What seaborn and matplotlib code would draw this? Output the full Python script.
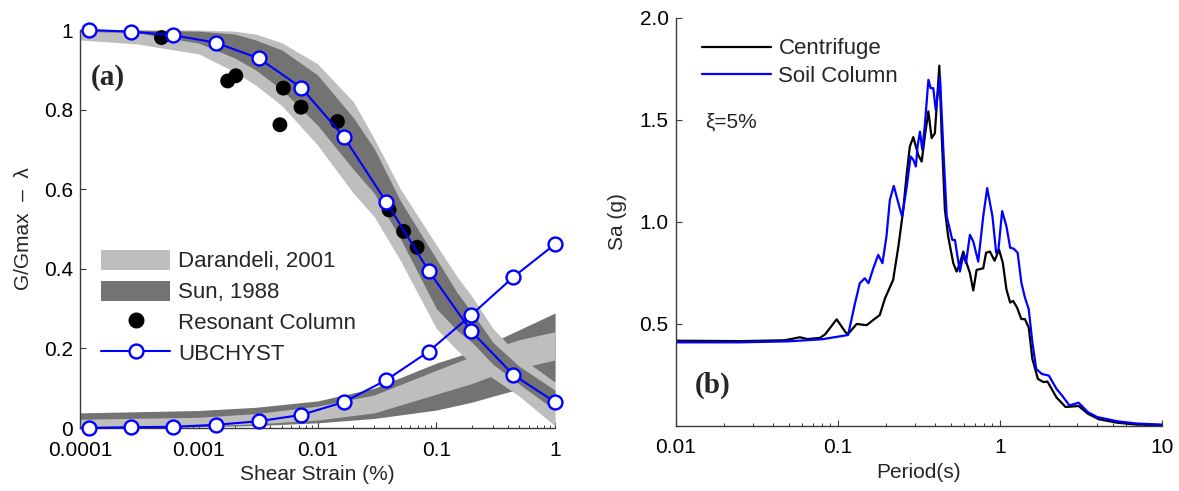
import matplotlib
matplotlib.use("Agg")
import matplotlib.pyplot as plt
from matplotlib.patches import Patch
from matplotlib.lines import Line2D
from matplotlib.ticker import FixedLocator, FuncFormatter, NullFormatter
import seaborn as sns

# -------------------------------
# Data: (a) modulus reduction / damping
# -------------------------------
gg_strain = [1e-4, 3e-4, 1e-3, 2e-3, 3e-3, 5e-3, 1e-2, 2e-2, 3e-2, 5e-2, 0.1, 0.15, 0.2, 0.3, 0.5, 1.0]
dar_gg_hi = [1.0, 1.0, 1.0, 0.997, 0.99, 0.968, 0.915, 0.82, 0.727, 0.60, 0.46, 0.38, 0.33, 0.25, 0.18, 0.115]
dar_gg_lo = [0.975, 0.965, 0.94, 0.895, 0.862, 0.81, 0.711, 0.59, 0.531, 0.42, 0.25, 0.195, 0.16, 0.125, 0.08, 0.005]
sun_gg_hi = [1.0, 1.0, 0.997, 0.99, 0.975, 0.95, 0.887, 0.78, 0.702, 0.57, 0.425, 0.34, 0.29, 0.215, 0.155, 0.095]
sun_gg_lo = [0.997, 0.993, 0.967, 0.93, 0.90, 0.85, 0.761, 0.65, 0.59, 0.475, 0.30, 0.245, 0.215, 0.16, 0.11, 0.045]

d_strain = [1e-4, 1e-3, 3e-3, 1e-2, 3e-2, 0.1, 0.2, 0.3, 0.5, 1.0]
sun_d_hi = [0.038, 0.044, 0.052, 0.068, 0.100, 0.163, 0.192, 0.216, 0.247, 0.289]
dar_d_hi = [0.022, 0.027, 0.036, 0.055, 0.083, 0.145, 0.180, 0.200, 0.222, 0.242]
dar_d_lo = [0.004, 0.006, 0.010, 0.020, 0.038, 0.085, 0.112, 0.132, 0.150, 0.171]
sun_d_lo = [0.0, 0.003, 0.006, 0.013, 0.024, 0.045, 0.065, 0.080, 0.098, 0.116]

rc_strain = [4.85e-4, 1.75e-3, 2.05e-3, 4.82e-3, 5.15e-3, 7.26e-3, 0.0147, 0.040, 0.0531, 0.0689]
rc_gg = [0.981, 0.872, 0.885, 0.762, 0.854, 0.806, 0.770, 0.548, 0.494, 0.454]

ubc_strain = [1.18e-4, 2.67e-4, 6.1e-4, 1.39e-3, 3.2e-3, 7.3e-3, 0.0166, 0.0377, 0.0861, 0.197, 0.444, 1.0]
ubc_gg = [1.0, 0.996, 0.987, 0.968, 0.929, 0.855, 0.732, 0.569, 0.395, 0.243, 0.134, 0.065]
ubc_damp = [0.0, 0.002, 0.003, 0.008, 0.017, 0.033, 0.065, 0.120, 0.192, 0.284, 0.379, 0.462]

# -------------------------------
# Data: (b) response spectra
# -------------------------------
T_centrifuge = [0.01, 0.025, 0.047, 0.0585, 0.065, 0.0778, 0.0839, 0.0986, 0.112, 0.116, 0.131,
                0.151, 0.166, 0.182, 0.196, 0.22, 0.237, 0.254, 0.267, 0.279, 0.293, 0.314, 0.33,
                0.346, 0.363, 0.38, 0.398, 0.424, 0.438, 0.459, 0.481, 0.517, 0.542, 0.568, 0.596,
                0.625, 0.655, 0.687, 0.72, 0.791, 0.824, 0.87, 0.93, 0.99, 1.045, 1.10, 1.16, 1.21,
                1.28, 1.36, 1.43, 1.51, 1.59, 1.72, 1.86, 1.97, 2.24, 2.55, 3.07, 3.5, 4.09, 5.32,
                7.0, 10.0]
Sa_centrifuge = [0.418, 0.416, 0.42, 0.435, 0.426, 0.432, 0.45, 0.523, 0.459, 0.451, 0.5,
                 0.494, 0.52, 0.544, 0.626, 0.716, 0.88, 1.06, 1.239, 1.37, 1.416, 1.329, 1.296,
                 1.427, 1.542, 1.411, 1.435, 1.766, 1.435, 1.06, 0.928, 0.798, 0.757, 0.798, 0.855,
                 0.798, 0.749, 0.664, 0.765, 0.773, 0.849, 0.855, 0.81, 0.865, 0.80, 0.67, 0.605, 0.613,
                 0.58, 0.524, 0.524, 0.483, 0.329, 0.231, 0.215, 0.218, 0.14, 0.093, 0.098, 0.06, 0.033,
                 0.016, 0.007, 0.003]

T_soil = [0.01, 0.025, 0.05, 0.08, 0.116, 0.128, 0.137, 0.147, 0.155, 0.166, 0.178, 0.189, 0.2,
          0.21, 0.222, 0.237, 0.25, 0.267, 0.282, 0.293, 0.304, 0.311, 0.322, 0.333, 0.346, 0.363,
          0.375, 0.389, 0.403, 0.428, 0.449, 0.471, 0.51, 0.529, 0.568, 0.596, 0.619, 0.655, 0.687,
          0.737, 0.791, 0.837, 0.902, 0.951, 0.982, 1.035, 1.10, 1.16, 1.22, 1.29, 1.36, 1.43, 1.51,
          1.59, 1.68, 1.82, 2.01, 2.24, 2.42, 2.69, 3.07, 3.5, 3.99, 5.32, 7.0, 10.0]
Sa_soil = [0.41, 0.41, 0.415, 0.425, 0.446, 0.602, 0.70, 0.724, 0.70, 0.773, 0.839, 0.798, 0.928,
           1.108, 1.177, 1.092, 1.027, 1.174, 1.321, 1.305, 1.272, 1.37, 1.443, 1.354, 1.485, 1.697,
           1.656, 1.656, 1.55, 1.713, 1.354, 1.027, 0.912, 0.912, 0.757, 0.839, 0.798, 0.937, 0.904,
           0.806, 1.027, 1.166, 1.028, 0.849, 0.865, 1.053, 0.979, 0.874, 0.869, 0.849, 0.703, 0.63,
           0.573, 0.41, 0.28, 0.255, 0.247, 0.182, 0.15, 0.101, 0.114, 0.068, 0.044, 0.023, 0.012, 0.007]

gg_ticks = [0, 0.2, 0.4, 0.6, 0.8, 1]
strain_ticks = [1e-4, 1e-3, 1e-2, 0.1, 1]
sa_ticks = [0.5, 1.0, 1.5, 2.0]
period_ticks = [0.01, 0.1, 1, 10]

LIGHT = "#bebebe"
DARK = "#737373"
AXCOL = "#3a3a3a"

# -------------------------------
# Style
# -------------------------------
sns.set_style("ticks")
plt.rcParams["font.family"] = ["Liberation Sans", "DejaVu Sans"]
plt.rcParams["axes.edgecolor"] = AXCOL
plt.rcParams["xtick.color"] = AXCOL
plt.rcParams["ytick.color"] = AXCOL
plt.rcParams["xtick.labelcolor"] = "black"
plt.rcParams["ytick.labelcolor"] = "black"

fig = plt.figure(figsize=(11.79, 4.91), dpi=100)
ax1 = fig.add_axes([0.0679, 0.1283, 0.4029, 0.8106])
ax2 = fig.add_axes([0.5730, 0.1324, 0.4124, 0.8310])

# -------------------------------
# (a) G/Gmax and damping
# -------------------------------
ax1.fill_between(d_strain, sun_d_lo, sun_d_hi, color=DARK, lw=0, zorder=1)
ax1.fill_between(d_strain, dar_d_lo, dar_d_hi, color=LIGHT, lw=0, zorder=1.1)
ax1.fill_between(gg_strain, dar_gg_lo, dar_gg_hi, color=LIGHT, lw=0, zorder=1.2)
ax1.fill_between(gg_strain, sun_gg_lo, sun_gg_hi, color=DARK, lw=0, zorder=1.3)

sns.scatterplot(x=rc_strain, y=rc_gg, ax=ax1, color="black", s=115, edgecolor="none",
                zorder=4, clip_on=False)

for yy in [ubc_gg, ubc_damp]:
    sns.lineplot(x=ubc_strain, y=yy, ax=ax1, color="blue", linewidth=1.5, marker="o",
                 markersize=10, markerfacecolor="white", markeredgecolor="blue",
                 markeredgewidth=1.7, sort=False, estimator=None, zorder=5, clip_on=False)

ax1.set_xscale("log")
ax1.set_xlim(1e-4, 1)
ax1.set_ylim(0, 1)
ax1.xaxis.set_major_locator(FixedLocator(strain_ticks))
ax1.xaxis.set_major_formatter(FuncFormatter(lambda v, p: "%g" % v))
ax1.xaxis.set_minor_formatter(NullFormatter())
ax1.yaxis.set_major_locator(FixedLocator(gg_ticks))
ax1.yaxis.set_major_formatter(FuncFormatter(lambda v, p: "%g" % v))
ax1.set_xlabel("Shear Strain (%)", fontsize=15, labelpad=4)
ax1.set_ylabel("G/Gmax  \u2013  \u03bb", fontsize=15, labelpad=8)
ax1.text(0.022, 0.88, "(a)", transform=ax1.transAxes, fontsize=21, fontweight="bold",
         family="Liberation Serif", va="center", ha="left")

handles = [Patch(facecolor=LIGHT, edgecolor="none", label="Darandeli, 2001"),
           Patch(facecolor=DARK, edgecolor="none", label="Sun, 1988"),
           Line2D([], [], color="black", marker="o", linestyle="none", markersize=10.5,
                  label="Resonant Column"),
           Line2D([], [], color="blue", linewidth=1.5, marker="o", markersize=10,
                  markerfacecolor="white", markeredgecolor="blue", markeredgewidth=1.7,
                  label="UBCHYST")]
ax1.legend(handles=handles, loc="upper left", bbox_to_anchor=(0.045, 0.448), frameon=False,
           fontsize=16, handlelength=3.1, handleheight=1.0, handletextpad=0.35,
           labelspacing=0.38, borderpad=0, borderaxespad=0)

# -------------------------------
# (b) Response spectra
# -------------------------------
sns.lineplot(x=T_centrifuge, y=Sa_centrifuge, ax=ax2, color="black", linewidth=1.6,
             sort=False, estimator=None, label="Centrifuge")
sns.lineplot(x=T_soil, y=Sa_soil, ax=ax2, color="blue", linewidth=1.6,
             sort=False, estimator=None, label="Soil Column")

ax2.set_xscale("log")
ax2.set_xlim(0.01, 10)
ax2.set_ylim(0, 2)
ax2.xaxis.set_major_locator(FixedLocator(period_ticks))
ax2.xaxis.set_major_formatter(FuncFormatter(lambda v, p: "%g" % v))
ax2.xaxis.set_minor_formatter(NullFormatter())
ax2.yaxis.set_major_locator(FixedLocator(sa_ticks))
ax2.yaxis.set_major_formatter(FuncFormatter(lambda v, p: "%.1f" % v))
ax2.set_xlabel("Period(s)", fontsize=15, labelpad=4)
ax2.set_ylabel("Sa (g)", fontsize=15, labelpad=9)
ax2.legend(loc="upper left", bbox_to_anchor=(0.054, 0.95), frameon=False, fontsize=16,
           handlelength=3.1, handletextpad=0.35, labelspacing=0.3, borderpad=0, borderaxespad=0)
ax2.text(0.06, 0.745, "\u03be=5%", transform=ax2.transAxes, fontsize=15, va="center")
ax2.text(0.04, 0.10, "(b)", transform=ax2.transAxes, fontsize=21, fontweight="bold",
         family="Liberation Serif", va="center", ha="left")

for ax in [ax1, ax2]:
    sns.despine(ax=ax)
    ax.spines["left"].set_linewidth(1.0)
    ax.spines["bottom"].set_linewidth(1.0)
    ax.tick_params(which="major", direction="in", length=4, width=0.8, labelsize=15, pad=5)
    ax.tick_params(which="minor", direction="in", length=2.5, width=0.7)
    ax.tick_params(axis="x", which="major", pad=9)
    ax.tick_params(axis="y", which="minor", left=False)

fig.savefig("out.png", dpi=100)
